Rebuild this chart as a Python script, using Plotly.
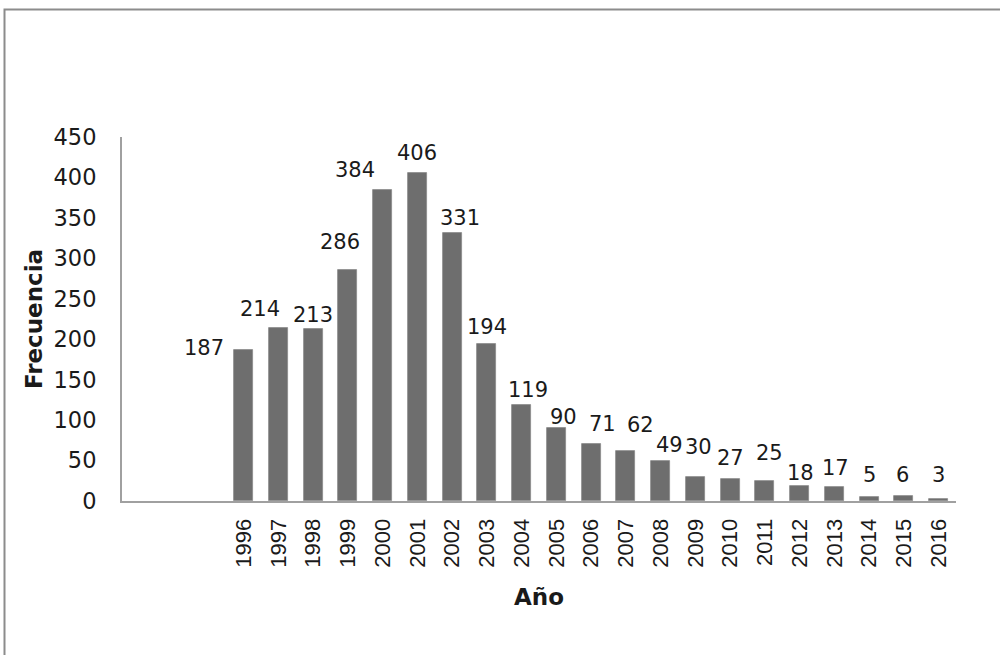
import plotly.graph_objects as go

# ---- data ----
years = [1996, 1997, 1998, 1999, 2000, 2001, 2002, 2003, 2004, 2005, 2006,
         2007, 2008, 2009, 2010, 2011, 2012, 2013, 2014, 2015, 2016]
frecuencia = [187, 214, 213, 286, 384, 406, 331, 194, 119, 90, 71,
              62, 49, 30, 27, 25, 18, 17, 5, 6, 3]
year_labels = [str(y) for y in years]
y_ticks = [0, 50, 100, 150, 200, 250, 300, 350, 400, 450]

# label offsets (pixels) relative to bar top centre, as in the reference
label_dx = [-40, -18, 0, -8, -28, 0, 8, 0, 6, 7, 11, 15, 9, 3, 0, 5, 1, 1, 0, -1, 0]
label_dy = [2, 19, 14, 28, 20, 20, 15, 17, 15, 11, 20, 26, 16, 30, 21, 28, 13, 19, 22, 21, 24]

W, H = 1000, 655
ML, MT = 122, 137
PW, PH = 834, 364
MR, MB = W - ML - PW, H - MT - PH

fig = go.Figure()
fig.add_trace(go.Bar(
    x=years, y=frecuencia, width=0.55,
    marker=dict(color="#6e6e6e", line=dict(color="#8a8a8a", width=0.8)),
    hoverinfo="x+y",
))

for x, v, dx, dy in zip(years, frecuencia, label_dx, label_dy):
    fig.add_annotation(
        x=x, y=v, xref="x", yref="y", text=str(v), showarrow=False,
        xanchor="center", yanchor="middle", xshift=dx, yshift=dy,
        font=dict(family="DejaVu Sans", size=21, color="#1a1a1a"),
    )

# outer chart border (extends past right/bottom edges as in the reference)
def px_to_paper_x(px):
    return (px - ML) / PW

def px_to_paper_y(py):
    return (MT + PH - py) / PH

fig.add_shape(
    type="rect", xref="paper", yref="paper",
    x0=px_to_paper_x(4.5), x1=px_to_paper_x(1030),
    y0=px_to_paper_y(690), y1=px_to_paper_y(9.5),
    line=dict(color="#8c8c8c", width=2), fillcolor="rgba(0,0,0,0)",
)

fig.update_layout(
    width=W, height=H,
    margin=dict(l=ML, r=MR, t=MT, b=MB, pad=0),
    paper_bgcolor="white", plot_bgcolor="white",
    showlegend=False, bargap=0,
    font=dict(family="DejaVu Sans", color="#1a1a1a"),
)

fig.update_xaxes(
    range=[1992.5, 2016.5], tickmode="array", tickvals=years, ticktext=year_labels,
    tickangle=-90, showgrid=False, zeroline=False,
    showline=True, linecolor="#a0a0a0", linewidth=2,
    ticks="", ticklabelstandoff=7,
    tickfont=dict(family="Liberation Sans", size=22, color="#1a1a1a"),
    title=dict(text="<b>Año</b>", font=dict(family="DejaVu Sans", size=23, color="#1a1a1a"),
               standoff=22),
)
fig.update_yaxes(
    range=[0, 450], tickmode="array", tickvals=y_ticks,
    showgrid=False, zeroline=False,
    showline=True, linecolor="#a0a0a0", linewidth=2,
    ticks="", ticklabelstandoff=19,
    tickfont=dict(family="DejaVu Sans", size=22.5, color="#1a1a1a"),
    title=dict(text="<b>Frecuencia</b>", font=dict(family="DejaVu Sans", size=23, color="#1a1a1a"),
               standoff=4),
)

fig.write_html("out.html", config={"displayModeBar": False},
               post_script="document.body.style.margin='0px';document.body.style.overflow='hidden';")
